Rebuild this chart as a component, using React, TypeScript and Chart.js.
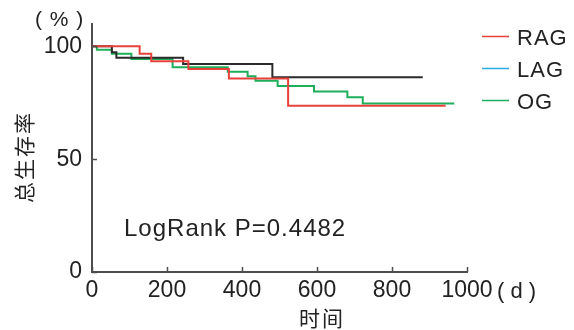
import React, { useEffect, useRef } from 'react';
import { Chart, registerables } from 'chart.js';

Chart.register(...registerables);

// ---- data ----
const seriesLabels = ['RAG', 'LAG', 'OG'];
const ragTimes = [0, 127, 158, 257, 365, 523, 943];
const ragSurv = [100, 96.7, 93.4, 90.0, 85.8, 73.7, 73.7];
const lagTimes = [0, 53, 65, 243, 481, 882];
const lagSurv = [100, 97.4, 94.9, 92.2, 86.3, 86.3];
const ogTimes = [0, 13, 53, 105, 215, 362, 415, 436, 495, 592, 681, 722, 966];
const ogSurv = [100, 98.5, 96.7, 94.4, 90.7, 88.8, 86.8, 84.8, 82.4, 80.0, 77.4, 74.7, 74.7];
const xTickValues = [0, 200, 400, 600, 800, 1000];
const yTickValues = [0, 50, 100];
const pValueText = 'LogRank P=0.4482';
const yTitle = '总生存率';
const xTitle = '时间';
const yUnit = '( % )';
const xUnit = '( d )';

const lineColors = ['#e8413c', '#2b2b2b', '#1fae5a'];
const legendColors = ['#e8413c', '#29abe2', '#1fae5a'];
const axisColor = '#4d4d4d';
const textColor = '#222222';
const FONT = "'Liberation Sans', Arial, sans-serif";
const CJK = "'Noto Sans CJK SC', sans-serif";

const toPoints = (xs: number[], ys: number[]) => xs.map((x, i) => ({ x, y: ys[i] }));

const extras = {
  id: 'extras',
  beforeDraw(chart: any) {
    (chart.ctx as any).letterSpacing = '0px';
  },
  afterDraw(chart: any) {
    const ctx = chart.ctx as CanvasRenderingContext2D;
    const xs = chart.scales.x;
    const ys = chart.scales.y;
    const { left, bottom } = chart.chartArea;
    ctx.save();
    // inward tick marks
    ctx.strokeStyle = axisColor;
    ctx.lineWidth = 1.5;
    ctx.beginPath();
    xTickValues.forEach((v) => {
      const px = Math.round(xs.getPixelForValue(v)) + 0.5;
      ctx.moveTo(px, bottom);
      ctx.lineTo(px, bottom - 5);
    });
    yTickValues.forEach((v) => {
      const py = Math.round(ys.getPixelForValue(v)) + 0.5;
      ctx.moveTo(left, py);
      ctx.lineTo(left + 5, py);
    });
    ctx.stroke();

    ctx.fillStyle = textColor;
    (ctx as any).letterSpacing = '1px';
    ctx.textBaseline = 'alphabetic';
    ctx.textAlign = 'left';
    // legend
    const legendBase = [45, 77, 109];
    seriesLabels.forEach((lab, i) => {
      ctx.strokeStyle = legendColors[i];
      ctx.lineWidth = 1.5;
      ctx.beginPath();
      ctx.moveTo(482, legendBase[i] - 8.5);
      ctx.lineTo(509, legendBase[i] - 8.5);
      ctx.stroke();
      ctx.font = `22px ${FONT}`;
      ctx.fillText(lab, 517, legendBase[i]);
    });
    // p-value
    ctx.font = `24px ${FONT}`;
    ctx.fillText(pValueText, 124, 236);
    // units
    ctx.font = `21px ${FONT}`;
    ctx.fillText(yUnit, 35, 26);
    (ctx as any).letterSpacing = '0px';
    ctx.font = `22px ${FONT}`;
    ctx.fillText(xUnit, 497, 298);
    // titles
    ctx.font = `21px ${CJK}`;
    (ctx as any).letterSpacing = '2px';
    ctx.textAlign = 'center';
    ctx.textBaseline = 'middle';
    ctx.fillText(xTitle, 322, 318);
    ctx.translate(24, 157);
    ctx.rotate(-Math.PI / 2);
    ctx.fillText(yTitle, 0, 0);
    ctx.restore();
  },
};

export default function App() {
  const ref = useRef<HTMLCanvasElement | null>(null);
  useEffect(() => {
    document.body.style.margin = '0';
    if (!ref.current) return;
    const chart = new Chart(ref.current, {
      type: 'line',
      data: {
        datasets: seriesLabels.map((label, i) => ({
          label,
          data: toPoints([ragTimes, lagTimes, ogTimes][i], [ragSurv, lagSurv, ogSurv][i]),
          borderColor: lineColors[i],
          backgroundColor: lineColors[i],
          borderWidth: 2,
          pointRadius: 0,
          stepped: 'before' as const,
          fill: false,
        })),
      },
      options: {
        animation: false,
        responsive: false,
        devicePixelRatio: 1,
        layout: { padding: { top: 22, right: 107, left: 0, bottom: 0 } },
        plugins: { legend: { display: false }, tooltip: { enabled: false } },
        scales: {
          x: {
            type: 'linear',
            min: 0,
            max: 1000,
            afterBuildTicks: (s: any) => { s.ticks = xTickValues.map((v) => ({ value: v })); },
            afterFit: (s: any) => { s.height = 58; },
            grid: { display: true, drawOnChartArea: false, drawTicks: false },
            border: { display: true, color: axisColor, width: 2 },
            ticks: {
              color: textColor,
              font: { family: FONT, size: 23 },
              padding: 5,
              maxRotation: 0,
              autoSkip: false,
              callback: (v: any) => String(v),
            },
          },
          y: {
            type: 'linear',
            min: 0,
            max: 110,
            afterBuildTicks: (s: any) => { s.ticks = yTickValues.map((v) => ({ value: v })); },
            afterFit: (s: any) => { s.width = 92; },
            grid: { display: true, drawOnChartArea: false, drawTicks: false },
            border: { display: true, color: axisColor, width: 2 },
            ticks: {
              color: textColor,
              font: { family: FONT, size: 23 },
              padding: 10,
              callback: (v: any) => String(v),
            },
          },
        },
      },
      plugins: [extras],
    });
    return () => chart.destroy();
  }, []);
  return <canvas ref={ref} width={574} height={330} style={{ display: 'block' }} />;
}
